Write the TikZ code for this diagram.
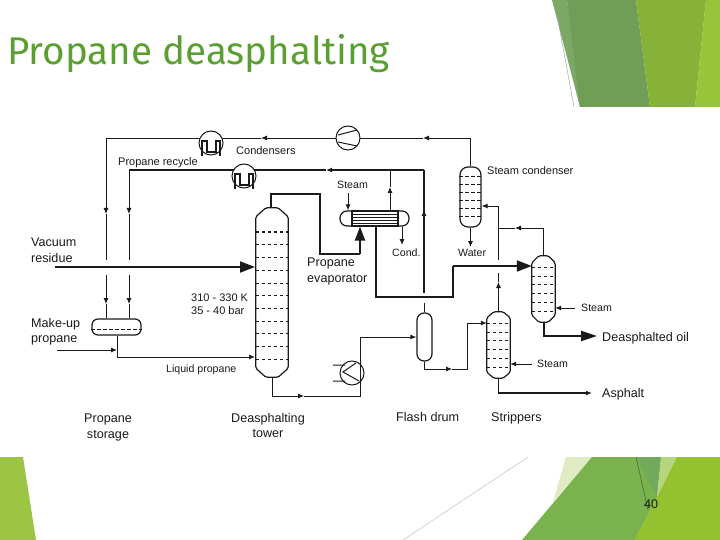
\documentclass[tikz,border=0pt]{standalone}
\usepackage{fontspec}
\setmainfont{Liberation Sans}
\newfontfamily\titlefont{Fira Sans}
\usetikzlibrary{arrows.meta}
\definecolor{ink}{HTML}{1A1A1A}
\definecolor{gA}{HTML}{7CA866}
\definecolor{gB}{HTML}{709E56}
\definecolor{gC}{HTML}{86B337}
\definecolor{gD}{HTML}{96C43A}
\definecolor{gE}{HTML}{E0EBC4}
\definecolor{gF}{HTML}{7AB24E}
\definecolor{gG}{HTML}{72AA5C}
\definecolor{gH}{HTML}{B5D67F}
\definecolor{gI}{HTML}{93C22E}
\definecolor{gJ}{HTML}{9DC544}
\definecolor{titlegreen}{HTML}{5B9F33}
\newcommand{\chamfered}[3]{% node name, chamfer x, chamfer y
  \draw[ink,line width=1.2pt,fill=white,rounded corners=1.5pt]
    ([xshift=#2]#1.north west) -- ([xshift=-#2]#1.north east)
    -- ([yshift=-#3]#1.north east) -- ([yshift=#3]#1.south east)
    -- ([xshift=-#2]#1.south east) -- ([xshift=#2]#1.south west)
    -- ([yshift=#3]#1.south west) -- ([yshift=-#3]#1.north west) -- cycle;
}
\tikzset{
  lab/.style={font=\fontsize{10.6}{12}\selectfont,text=ink,inner sep=0pt,anchor=base west},
  labm/.style={font=\fontsize{11}{12}\selectfont,text=ink,inner sep=0pt,anchor=base west},
  labb/.style={font=\fontsize{12.6}{14}\selectfont,text=ink,inner sep=0pt,anchor=base west},
  labc/.style={font=\fontsize{12.6}{15.3}\selectfont,text=ink,inner sep=0pt,align=center,anchor=north},
  labl/.style={font=\fontsize{12.6}{15.5}\selectfont,text=ink,inner sep=0pt,align=left,anchor=north west},
  fine/.style={draw=ink,line width=0.9pt},
  med/.style={draw=ink,line width=1.3pt},
  heavy/.style={draw=ink,line width=2pt},
  tip/.style={-{Latex[length=6pt,width=5pt]}},
  bigtip/.style={-{Triangle[length=15pt,width=11pt]}},
  shell/.style={inner sep=0pt},
  drum/.style={draw=ink,line width=1.2pt,fill=white,rectangle,inner sep=0pt},
  tray/.style={draw=ink,line width=1pt,dash pattern=on 3.5pt off 2.5pt},
  machine/.style={draw=ink,line width=1pt,fill=white,circle,inner sep=0pt,minimum size=24pt},
  cond/.pic={
    \node[machine] (-c) at (0,0) {};
    \draw[ink,line width=1.1pt] (-9,13) -- (-9,-2) -- (-4,-2) -- (-4,9) -- (5,9) -- (5,-2) -- (9,-2) -- (9,13);
  }
}
\begin{document}
\begin{tikzpicture}[x=1pt,y=-1pt]
\useasboundingbox (0,0) rectangle (720,540);
\fill[white] (0,0) rectangle (720,540);
% slide decoration
\fill[gA] (552,0) -- (567,0) -- (583,107) -- (580,107) -- cycle;
\fill[gB] (567,0) -- (636,0) -- (650,107) -- (580,107) -- cycle;
\fill[gC] (636,0) -- (706,0) -- (695,107) -- (650,107) -- cycle;
\fill[gD] (706,0) -- (720,0) -- (720,107) -- (695,107) -- cycle;
\draw[black!35,line width=0.5pt] (557,15) -- (574,107);
\fill[gE] (566,457) -- (592,457) -- (553,502) -- cycle;
\fill[gF] (592,457) -- (661,457) -- (657,497) -- (635,540) -- (522,540) -- cycle;
\fill[gG] (636,457) -- (661,457) -- (657,497) -- cycle;
\fill[gH] (661,457) -- (677,457) -- (657,497) -- cycle;
\fill[gI] (677,457) -- (720,457) -- (720,540) -- (635,540) -- (657,497) -- cycle;
\fill[gJ] (0,457) -- (23,457) -- (36,540) -- (0,540) -- cycle;
\draw[black!25,line width=0.5pt] (528,457) -- (403,540);
\draw[black!45!gF,line width=0.5pt] (636,457) -- (648,510);
\node[font=\fontsize{12.5}{14}\selectfont,text=ink,inner sep=0pt] (pagenum) at (651,504) {40};
\node[font=\titlefont\fontsize{38.6}{42}\selectfont,text=titlegreen,inner sep=0pt,anchor=base west] (title) at (7,65) {Propane deasphalting};

% junction coordinates
\coordinate (tlc) at (106,138);
\coordinate (tlat1) at (106,214);
\coordinate (tlg1) at (106,260);
\coordinate (tlg2) at (106,275);
\coordinate (tlat2) at (106,304);
\coordinate (slc) at (129,170);
\coordinate (slat1) at (129,214);
\coordinate (slg1) at (129,260);
\coordinate (slg2) at (129,275);
\coordinate (slat2) at (129,304);
\coordinate (tarrow) at (423,138);
\coordinate (tarrowb) at (261,138);
\coordinate (sarrow) at (326,170);
\coordinate (trc) at (470.5,138);
\coordinate (src) at (424,170);
\coordinate (rs) at (55,267);
\coordinate (rse) at (255,267);
\coordinate (mk) at (57,350);
\coordinate (stj) at (117,350);
\coordinate (stk) at (117,357);
\coordinate (lpe) at (255,357);
\coordinate (ov1) at (271,194);
\coordinate (ov2) at (320,194);
\coordinate (ov3) at (320,254);
\coordinate (ov4) at (360,254);
\coordinate (vap) at (390,170);
\coordinate (vapat) at (390,187);
\coordinate (sat) at (424,210);
\coordinate (send) at (424,293);
\coordinate (tb1) at (272,396);
\coordinate (tbat) at (304,396);
\coordinate (tb2) at (360,396);
\coordinate (tb3) at (360,337);
\coordinate (fl2) at (424.5,303);
\coordinate (ev1) at (376,297);
\coordinate (ev2) at (453,297);
\coordinate (ev3) at (453,266);
\coordinate (fb1) at (424.5,369);
\coordinate (fbat) at (452,369);
\coordinate (fb2) at (467,369);
\coordinate (fb3) at (467,323);
\coordinate (stg1) at (498.5,273);
\coordinate (stat) at (498.5,282);
\coordinate (stg2) at (498.5,260);
\coordinate (sc1) at (498.5,206);
\coordinate (scj) at (498.5,228);
\coordinate (scat) at (515,228);
\coordinate (sc2) at (543.5,228);
\coordinate (w1) at (470.5,247);
\coordinate (stm1) at (348,193);
\coordinate (cnd) at (402,245);
\coordinate (s1a) at (575,308);
\coordinate (da1) at (543.5,336);
\coordinate (da2) at (597,336);
\coordinate (s2a) at (532,364);
\coordinate (as1) at (498.5,393);
\coordinate (as2) at (592,393);

% connectors under the vessels
\draw[fine] (tarrowb) -- (tlc);
\draw[fine,tip] (tlc) -- (tlat1);
\draw[fine] (tlat1) -- (tlg1);
\draw[fine,tip] (tlg2) -- (tlat2);
\draw[med] (sarrow) -- (slc);
\draw[fine,tip] (slc) -- (slat1);
\draw[fine] (slat1) -- (slg1);
\draw[fine,tip] (slg2) -- (slat2);
\draw[med,tip] (src) -- (sarrow);
\draw[med] (src) -- (send);
\draw[fine,tip] (send) -- (sat);
\draw[fine] (vapat) -- (vap);
\draw[fine,tip] (trc) -- (tarrow);
\draw[fine,tip] (tarrow) -- (tarrowb);
\draw[heavy,bigtip] (rs) -- (rse);

% vessels
\node[shell,minimum width=32pt,minimum height=169pt] (dat) at (272,292.5) {};
\chamfered{dat}{10pt}{9pt}
\foreach \yy in {232,244.5,257,270,283,295,308,321,333,346,359}
  \draw[tray] (dat.west |- 0,\yy) -- (dat.east |- 0,\yy);
\node[drum,rounded corners=6pt,minimum width=49pt,minimum height=16pt] (stor) at (116.5,327) {};
\draw[tray,line width=0.8pt] (stor.west |- 0,329) -- (stor.east |- 0,329);
\node[drum,rounded corners=8pt,minimum width=21pt,minimum height=60pt] (scond) at (470.5,197) {};
\foreach \yy in {177,185,193,201,209,217}
  \draw[tray] (scond.west |- 0,\yy) -- (scond.east |- 0,\yy);
\node[shell,minimum width=23pt,minimum height=66pt] (str2) at (498.5,345) {};
\chamfered{str2}{7pt}{6pt}
\foreach \yy in {323,332,340,349,358,367}
  \draw[tray] (str2.west |- 0,\yy) -- (str2.east |- 0,\yy);
\node[shell,minimum width=23pt,minimum height=66pt] (str1) at (543.5,289) {};
\chamfered{str1}{7pt}{7pt}
\foreach \yy in {267,276,284,293,302,311}
  \draw[tray] (str1.west |- 0,\yy) -- (str1.east |- 0,\yy);
\node[drum,rounded corners=7pt,minimum width=15pt,minimum height=48pt] (flash) at (424.5,337) {};
\node[drum,rounded corners=7pt,minimum width=69pt,minimum height=15pt] (evap) at (374.5,218.5) {};
\node[draw=ink,line width=1.2pt,fill=white,inner sep=0pt,minimum width=46pt,minimum height=15pt] (bundle) at (375,218.5) {};
\foreach \yy in {214,217,220,223}
  \draw[ink,line width=0.8pt] (bundle.west |- 0,\yy) -- (bundle.east |- 0,\yy);
\node[machine] (comp) at (348,138) {};
\draw[ink,line width=1pt] (338,135) -- (357,130) (338,142) -- (357,146);
\pic (c1) at (211,143) {cond};
\pic (c2) at (244,176) {cond};
\node[machine,fill=none] (heater) at (352,373) {};
\draw[ink,line width=1pt] (333,365) -- (345,365) (333,381) -- (345,381)
  (356,363) -- (343,372) -- (359,381);

% connectors on the vessels
\draw[fine] (trc) -- (scond.north);
\draw[heavy] (ov1 |- dat.north) -- (ov1) -- (ov2) -- (ov3) -- (ov4);
\draw[heavy,-{Triangle[length=14pt,width=10pt]}] (ov4) -- (evap.south -| ov4);
\draw[heavy] (evap.south -| ev1) -- (ev1) -- (ev2) -- (ev3);
\draw[heavy,bigtip] (ev3) -- (ev3 -| str1.west);
\draw[fine,tip] (stm1) -- (evap.north -| stm1);
\draw[fine,tip] (evap.south -| cnd) -- (cnd);
\draw[fine,tip] (evap.north -| vapat) -- (vapat);
\draw[fine,tip] (scond.south) -- (w1);
\draw[fine,tip] (stj |- stor.south) -- (stk) -- (lpe);
\draw[fine] (tlat2) -- (tlat2 |- stor.north);
\draw[fine] (slat2) -- (slat2 |- stor.north);
\draw[fine,tip] (mk) -- (stj);
\draw[fine,tip] (dat.south) -- (tb1) -- (tbat);
\draw[fine] (tbat) -- (tb2) -- (tb3);
\draw[fine,tip] (tb3) -- (flash.west |- tb3);
\draw[fine] (flash.north) -- (fl2);
\draw[fine,tip] (flash.south) -- (fb1) -- (fbat);
\draw[fine] (fbat) -- (fb2) -- (fb3);
\draw[fine,tip] (fb3) -- (str2.west |- fb3);
\draw[fine,tip] (str2.north) -- (stat);
\draw[fine] (stat) -- (stg1);
\draw[fine,tip] (str1.north) -- (sc2) -- (scat);
\draw[fine] (scat) -- (scj);
\draw[fine] (stg2) -- (scj);
\draw[fine,tip] (scj) -- (sc1) -- (scond.east |- sc1);
\draw[fine,tip] (s1a) -- (str1.east |- s1a);
\draw[fine,tip] (s2a) -- (str2.east |- s2a);
\draw[heavy,-{Triangle[length=16pt,width=10pt]}] (str1.south) -- (da1) -- (da2);
\draw[med,tip] (str2.south) -- (as1) -- (as2);

% labels
\node[labl] (l1) at (31,238) {Vacuum\\residue};
\node[labl] (l2) at (31,318) {Make-up\\propane};
\node[labm] (l3) at (118,166) {Propane recycle};
\node[labm] (l4) at (236,155) {Condensers};
\node[lab] (l5) at (337,189) {Steam};
\node[labm] (l6) at (487,175) {Steam condenser};
\node[lab] (l7) at (392,256) {Cond.};
\node[lab] (l8) at (458,256) {Water};
\node[labl] (l9) at (307,258) {Propane\\evaporator};
\node[labl,font=\fontsize{11}{12.8}\selectfont] (l10) at (191,294) {310 - 330 K\\35 - 40 bar};
\node[lab] (l11) at (166,372) {Liquid propane};
\node[labc] (l12) at (108,414) {Propane\\storage};
\node[labc] (l13) at (268,413) {Deasphalting\\tower};
\node[labb] (l14) at (396,421) {Flash drum};
\node[labb] (l15) at (491,421) {Strippers};
\node[lab] (l16) at (581,311) {Steam};
\node[lab] (l17) at (537,367) {Steam};
\node[labb] (l18) at (602,341) {Deasphalted oil};
\node[labb] (l19) at (602,397) {Asphalt};
\end{tikzpicture}
\end{document}
